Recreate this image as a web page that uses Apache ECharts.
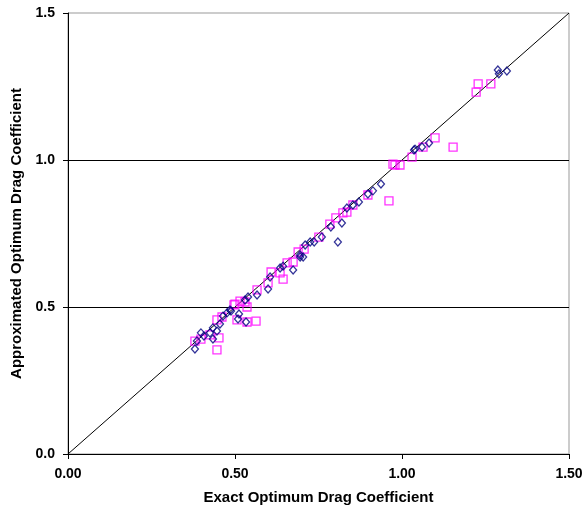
<!DOCTYPE html>
<html><head><meta charset="utf-8">
<script src="https://cdn.jsdelivr.net/npm/echarts@6/dist/echarts.min.js"></script>
<style>html,body{margin:0;padding:0;background:#fff}#c{width:587px;height:512px}</style>
</head><body><div id="c"></div>
<script>
const xTicks = [0, 0.5, 1.0, 1.5];
const seriesA = [[0.38,0.357],[0.386,0.384],[0.398,0.412],[0.407,0.401],[0.425,0.412],[0.434,0.391],[0.434,0.429],[0.446,0.418],[0.455,0.442],[0.464,0.469],[0.476,0.48],[0.485,0.49],[0.488,0.486],[0.509,0.459],[0.512,0.476],[0.533,0.449],[0.53,0.524],[0.539,0.534],[0.566,0.541],[0.599,0.561],[0.605,0.602],[0.635,0.633],[0.644,0.639],[0.674,0.626],[0.695,0.67],[0.695,0.677],[0.704,0.67],[0.71,0.711],[0.725,0.721],[0.737,0.721],[0.76,0.738],[0.787,0.772],[0.808,0.721],[0.82,0.786],[0.835,0.837],[0.853,0.847],[0.871,0.857],[0.898,0.884],[0.913,0.895],[0.937,0.918],[1.036,1.034],[1.039,1.037],[1.06,1.044],[1.081,1.058],[1.287,1.306],[1.29,1.293],[1.314,1.303]];
const seriesB = [[0.38,0.384],[0.398,0.391],[0.425,0.405],[0.446,0.354],[0.446,0.456],[0.452,0.395],[0.461,0.466],[0.497,0.507],[0.5,0.51],[0.506,0.456],[0.515,0.52],[0.53,0.517],[0.536,0.5],[0.536,0.449],[0.563,0.452],[0.566,0.558],[0.599,0.582],[0.608,0.619],[0.635,0.616],[0.644,0.595],[0.656,0.65],[0.674,0.653],[0.689,0.687],[0.707,0.697],[0.751,0.738],[0.784,0.782],[0.802,0.803],[0.823,0.82],[0.835,0.823],[0.853,0.847],[0.898,0.881],[0.961,0.861],[0.973,0.986],[0.979,0.983],[0.994,0.983],[1.03,1.01],[1.063,1.044],[1.099,1.075],[1.153,1.044],[1.222,1.231],[1.228,1.259],[1.266,1.259]];
const diagonal = [[0,0],[1.5,1.5]];
const xName = 'Exact Optimum Drag Coefficient';
const yName = 'Approximated Optimum Drag Coefficient';

const chart = echarts.init(document.getElementById('c'), null, {renderer:'canvas'});
const tickFont = {fontFamily:'Liberation Sans, Arial, sans-serif', fontWeight:'bold', fontSize:14, color:'#000'};
const nameFont = {fontFamily:'Liberation Sans, Arial, sans-serif', fontWeight:'bold', fontSize:15, color:'#000'};
chart.setOption({
  animation:false,
  grid:{left:68, right:18, top:13, bottom:58, show:true, borderColor:'#999', borderWidth:1},
  xAxis:{type:'value', min:0, max:1.5, interval:0.5,
    name:xName, nameLocation:'middle', nameGap:36, nameTextStyle:nameFont,
    axisLine:{lineStyle:{color:'#000', width:1}},
    axisTick:{show:true, inside:false, length:5, lineStyle:{color:'#000'}},
    axisLabel:Object.assign({margin:13, formatter:v=>v.toFixed(2)}, tickFont),
    splitLine:{show:false}},
  yAxis:{type:'value', min:0, max:1.5, interval:0.5,
    name:yName, nameLocation:'middle', nameGap:38, nameTextStyle:nameFont,
    axisLine:{lineStyle:{color:'#000', width:1}},
    axisTick:{show:true, inside:false, length:5, lineStyle:{color:'#000'}},
    axisLabel:Object.assign({margin:13, formatter:v=>v.toFixed(1)}, tickFont),
    splitLine:{show:true, showMaxLine:false, lineStyle:{color:'#000', width:1}}},
  series:[
    {type:'line', data:diagonal, symbol:'none', lineStyle:{color:'#000', width:1}, z:1},
    {type:'scatter', data:seriesA, symbol:'diamond', symbolSize:[7,8],
      itemStyle:{color:'rgba(0,0,0,0)', borderColor:'#000080', borderWidth:1.3}, z:3},
    {type:'scatter', data:seriesB, symbol:'rect', symbolSize:8,
      itemStyle:{color:'rgba(0,0,0,0)', borderColor:'#FF00FF', borderWidth:1.3}, z:2}
  ]
});
</script></body></html>
